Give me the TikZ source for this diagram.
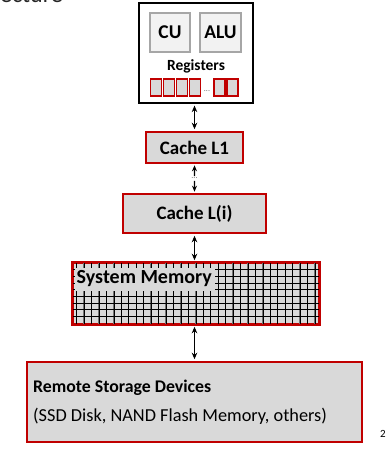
\documentclass[tikz,border=0pt]{standalone}
\usepackage{fontspec}
\setmainfont{Carlito}
\usetikzlibrary{arrows.meta,calc}

\definecolor{boxred}{HTML}{C00000}
\definecolor{boxgray}{HTML}{D9D9D9}
\definecolor{unitfill}{HTML}{F2F2F2}
\definecolor{unitline}{HTML}{A6A6A6}

\tikzset{
  levelbox/.style={draw=boxred, line width=1.6pt, fill=boxgray, inner sep=0pt},
  unitbox/.style={draw=unitline, line width=1.2pt, fill=unitfill, inner sep=0pt,
    minimum width=40pt, minimum height=39pt, font=\fontsize{19.5}{21}\selectfont\bfseries},
  regcell/.style={draw=boxred, line width=1.9pt, fill=boxgray, inner sep=0pt,
    minimum width=11pt, minimum height=17pt},
  link/.style={line width=1.2pt, {Stealth[length=6.5pt,width=5.5pt]}-{Stealth[length=6.5pt,width=5.5pt]},
    shorten <=2pt, shorten >=2pt},
  halflink/.style={line width=1.2pt, -{Stealth[length=6pt,width=5pt]}},
  dotsmark/.style={font=\fontsize{8}{8}\selectfont, text=black!60, inner sep=0pt},
}

\begin{document}
\begin{tikzpicture}[x=1pt,y=-1pt]
\useasboundingbox (0,0) rectangle (386,453);
\clip (0,0) rectangle (386,453);

% slide heading, mostly above the page edge
\node[anchor=base east, inner sep=0pt, font=\fontsize{24}{26}\selectfont, text=black!85]
  (title) at (63,2.5) {Architecture};

% processor
\node[draw=black, line width=1.2pt, fill=white, minimum width=114pt, minimum height=100pt,
  inner sep=0pt] (cpu) at (196,53) {};
\node[unitbox] (cu) at (170,32.5) {CU};
\node[unitbox, minimum width=41pt] (alu) at (220.5,32.5) {ALU};
\node[font=\fontsize{15.5}{17}\selectfont\bfseries, inner sep=0pt] (regs) at (196,66) {Registers};
\node[regcell] (r1) at (156,87.5) {};
\node[regcell] (r2) at (169,87.5) {};
\node[regcell] (r3) at (182,87.5) {};
\node[regcell] (r4) at (195,87.5) {};
\node[dotsmark] (rdots) at (207,91) {...};
\node[regcell] (r5) at (219.5,87.5) {};
\node[regcell] (r6) at (232.5,87.5) {};

% caches
\node[levelbox, minimum width=97pt, minimum height=31pt,
  font=\fontsize{19}{21}\selectfont\bfseries] (l1) at (194.5,147.5) {Cache L1};
\node[levelbox, minimum width=143pt, minimum height=39pt,
  font=\fontsize{19}{21}\selectfont\bfseries] (li) at (194.5,213.5) {Cache L(i)};

% main memory with its cell grid
\node[levelbox, minimum width=246pt, minimum height=61pt] (mem) at (196,293.5) {};
\begin{scope}
  \clip (mem.south west) rectangle (mem.north east);
  \foreach \i in {0,...,33} {
    \draw[black!55, line width=1.1pt] (76.5+7.45*\i,263) -- (76.5+7.45*\i,324);
    \draw[black, line width=0.4pt] (76.5+7.45*\i,263) -- (76.5+7.45*\i,324);
  }
  \foreach \j in {1,...,8} {
    \draw[black, line width=0.8pt] (73,263+6.67*\j) -- (319,263+6.67*\j);
  }
\end{scope}
\draw[boxred, line width=1.6pt] (mem.south west) rectangle (mem.north east);
\fill[boxgray] (75,268) rectangle (215,290.5);
\node[anchor=west, inner sep=0pt, font=\fontsize{20}{22}\selectfont\bfseries]
  (memlabel) at (76.5,279) {System Memory};

% storage
\node[levelbox, minimum width=335pt, minimum height=80pt] (disk) at (194.5,402) {};
\node[anchor=west, inner sep=0pt, font=\fontsize{17.8}{20}\selectfont\bfseries]
  (disktitle) at (33,388) {Remote Storage Devices};
\node[anchor=west, inner sep=0pt, font=\fontsize{18.3}{20}\selectfont]
  (disknote) at (33,416) {(SSD Disk, NAND Flash Memory, others)};

% connections between levels
\draw[link] (cpu.south -| l1.north) -- (l1.north);
\coordinate (gapa) at ($(l1.south)!0.42!(li.north)$);
\coordinate (gapb) at ($(l1.south)!0.58!(li.north)$);
\draw[halflink, shorten >=1.5pt] (gapa) -- (l1.south);
\draw[halflink, shorten >=1.5pt] (gapb) -- (li.north);
\node[dotsmark] (gapdots) at ($(gapa)!0.5!(gapb)$) {...};
\draw[link] (li.south) -- (mem.north -| li.south);
\draw[link] (mem.south -| disk.north) -- (disk.north);

% page number
\node[font=\fontsize{11}{12}\selectfont, inner sep=0pt] (pageno) at (383,434) {2};
\end{tikzpicture}
\end{document}
